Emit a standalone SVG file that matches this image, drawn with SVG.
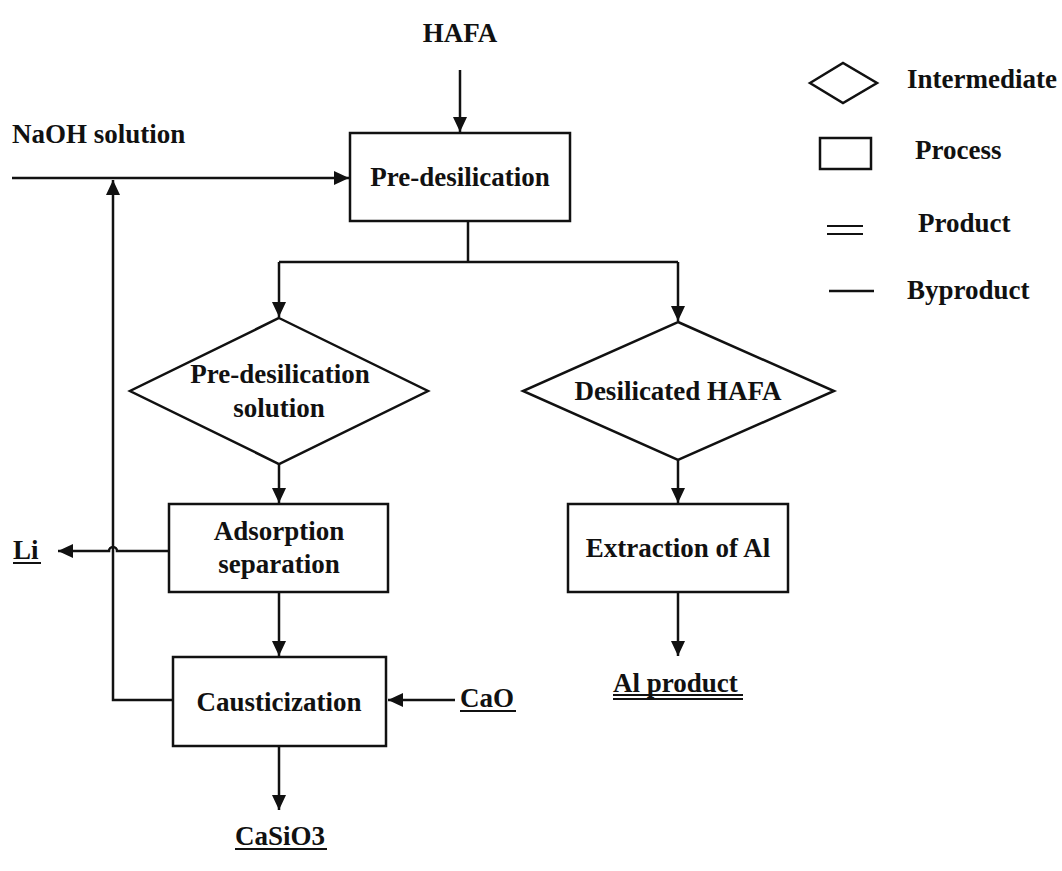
<svg xmlns="http://www.w3.org/2000/svg" width="1062" height="871" viewBox="0 0 1062 871">
<style>
text{font-family:"Liberation Serif","Times New Roman",serif;font-weight:bold;font-size:27px;fill:#111}
.c{text-anchor:middle}
.shape{fill:#fff;stroke:#111;stroke-width:2.5}
.ln{fill:none;stroke:#111;stroke-width:2.5}
.ul{stroke:#111;stroke-width:2}
</style>
<defs>
<marker id="ah" markerUnits="userSpaceOnUse" markerWidth="16" markerHeight="14" refX="15" refY="7" orient="auto">
<path d="M0,0 L15,7 L0,14 z" fill="#111"/>
</marker>
</defs>
<rect width="1062" height="871" fill="#fff"/>

<g id="connectors">
<line class="ln" x1="460" y1="70" x2="460" y2="132" marker-end="url(#ah)"/>
<line class="ln" x1="12" y1="178" x2="349" y2="178" marker-end="url(#ah)"/>
<path class="ln" d="M173,700 L113,700 L113,180" marker-end="url(#ah)"/>
<path class="ln" d="M468,221 L468,262"/>
<path class="ln" d="M279,262 L678,262"/>
<line class="ln" x1="279" y1="262" x2="279" y2="317" marker-end="url(#ah)"/>
<line class="ln" x1="678" y1="262" x2="678" y2="321" marker-end="url(#ah)"/>
<line class="ln" x1="279" y1="464" x2="279" y2="503" marker-end="url(#ah)"/>
<line class="ln" x1="678" y1="460" x2="678" y2="503" marker-end="url(#ah)"/>
<path class="ln" d="M169,551 L117,551 A4,4 0 0 0 109,551 L58,551" marker-end="url(#ah)"/>
<line class="ln" x1="279" y1="592" x2="279" y2="656" marker-end="url(#ah)"/>
<line class="ln" x1="455" y1="700" x2="388" y2="700" marker-end="url(#ah)"/>
<line class="ln" x1="279" y1="746" x2="279" y2="810" marker-end="url(#ah)"/>
<line class="ln" x1="678" y1="592" x2="678" y2="656" marker-end="url(#ah)"/>
</g>

<g id="hafa"><text class="c" x="460" y="42">HAFA</text></g>
<g id="naoh"><text x="12" y="143">NaOH solution</text></g>

<g id="pre-desilication">
<rect class="shape" x="350" y="133" width="220" height="88"/>
<text class="c" x="460" y="186">Pre-desilication</text>
</g>

<g id="pre-desilication-solution">
<polygon class="shape" points="279,318 428,391 279,464 130,391"/>
<text class="c" x="280" y="383">Pre-desilication</text>
<text class="c" x="279" y="417">solution</text>
</g>

<g id="desilicated-hafa">
<polygon class="shape" points="678,322 834,391 678,460 523,391"/>
<text class="c" x="678" y="400">Desilicated HAFA</text>
</g>

<g id="adsorption">
<rect class="shape" x="169" y="504" width="219" height="88"/>
<text class="c" x="279" y="540">Adsorption</text>
<text class="c" x="279" y="573">separation</text>
</g>

<g id="extraction">
<rect class="shape" x="568" y="504" width="220" height="88"/>
<text class="c" x="678" y="557">Extraction of Al</text>
</g>

<g id="causticization">
<rect class="shape" x="173" y="657" width="213" height="89"/>
<text class="c" x="279" y="711">Causticization</text>
</g>

<g id="li">
<text x="13" y="559">Li</text>
<line class="ul" x1="13" y1="563" x2="41" y2="563"/>
</g>

<g id="cao">
<text x="460" y="707">CaO</text>
<line class="ul" x1="460" y1="711" x2="516" y2="711"/>
</g>

<g id="al-product">
<text x="613" y="692">Al product</text>
<line class="ul" x1="613" y1="695" x2="743" y2="695" stroke-width="1.5"/>
<line class="ul" x1="613" y1="699" x2="743" y2="699" stroke-width="1.5"/>
</g>

<g id="casio3">
<text x="235" y="845">CaSiO3</text>
<line class="ul" x1="235" y1="849" x2="327" y2="849"/>
</g>

<g id="legend">
<polygon class="shape" points="810,83 843,63 877,83 843,103"/>
<text x="907" y="88">Intermediate</text>
<rect class="shape" x="820" y="138" width="51" height="31"/>
<text x="915" y="159">Process</text>
<line class="ul" x1="827" y1="226" x2="863" y2="226"/>
<line class="ul" x1="827" y1="234" x2="863" y2="234"/>
<text x="918" y="232">Product</text>
<line class="ln" x1="829" y1="291" x2="874" y2="291"/>
<text x="907" y="299">Byproduct</text>
</g>
</svg>
